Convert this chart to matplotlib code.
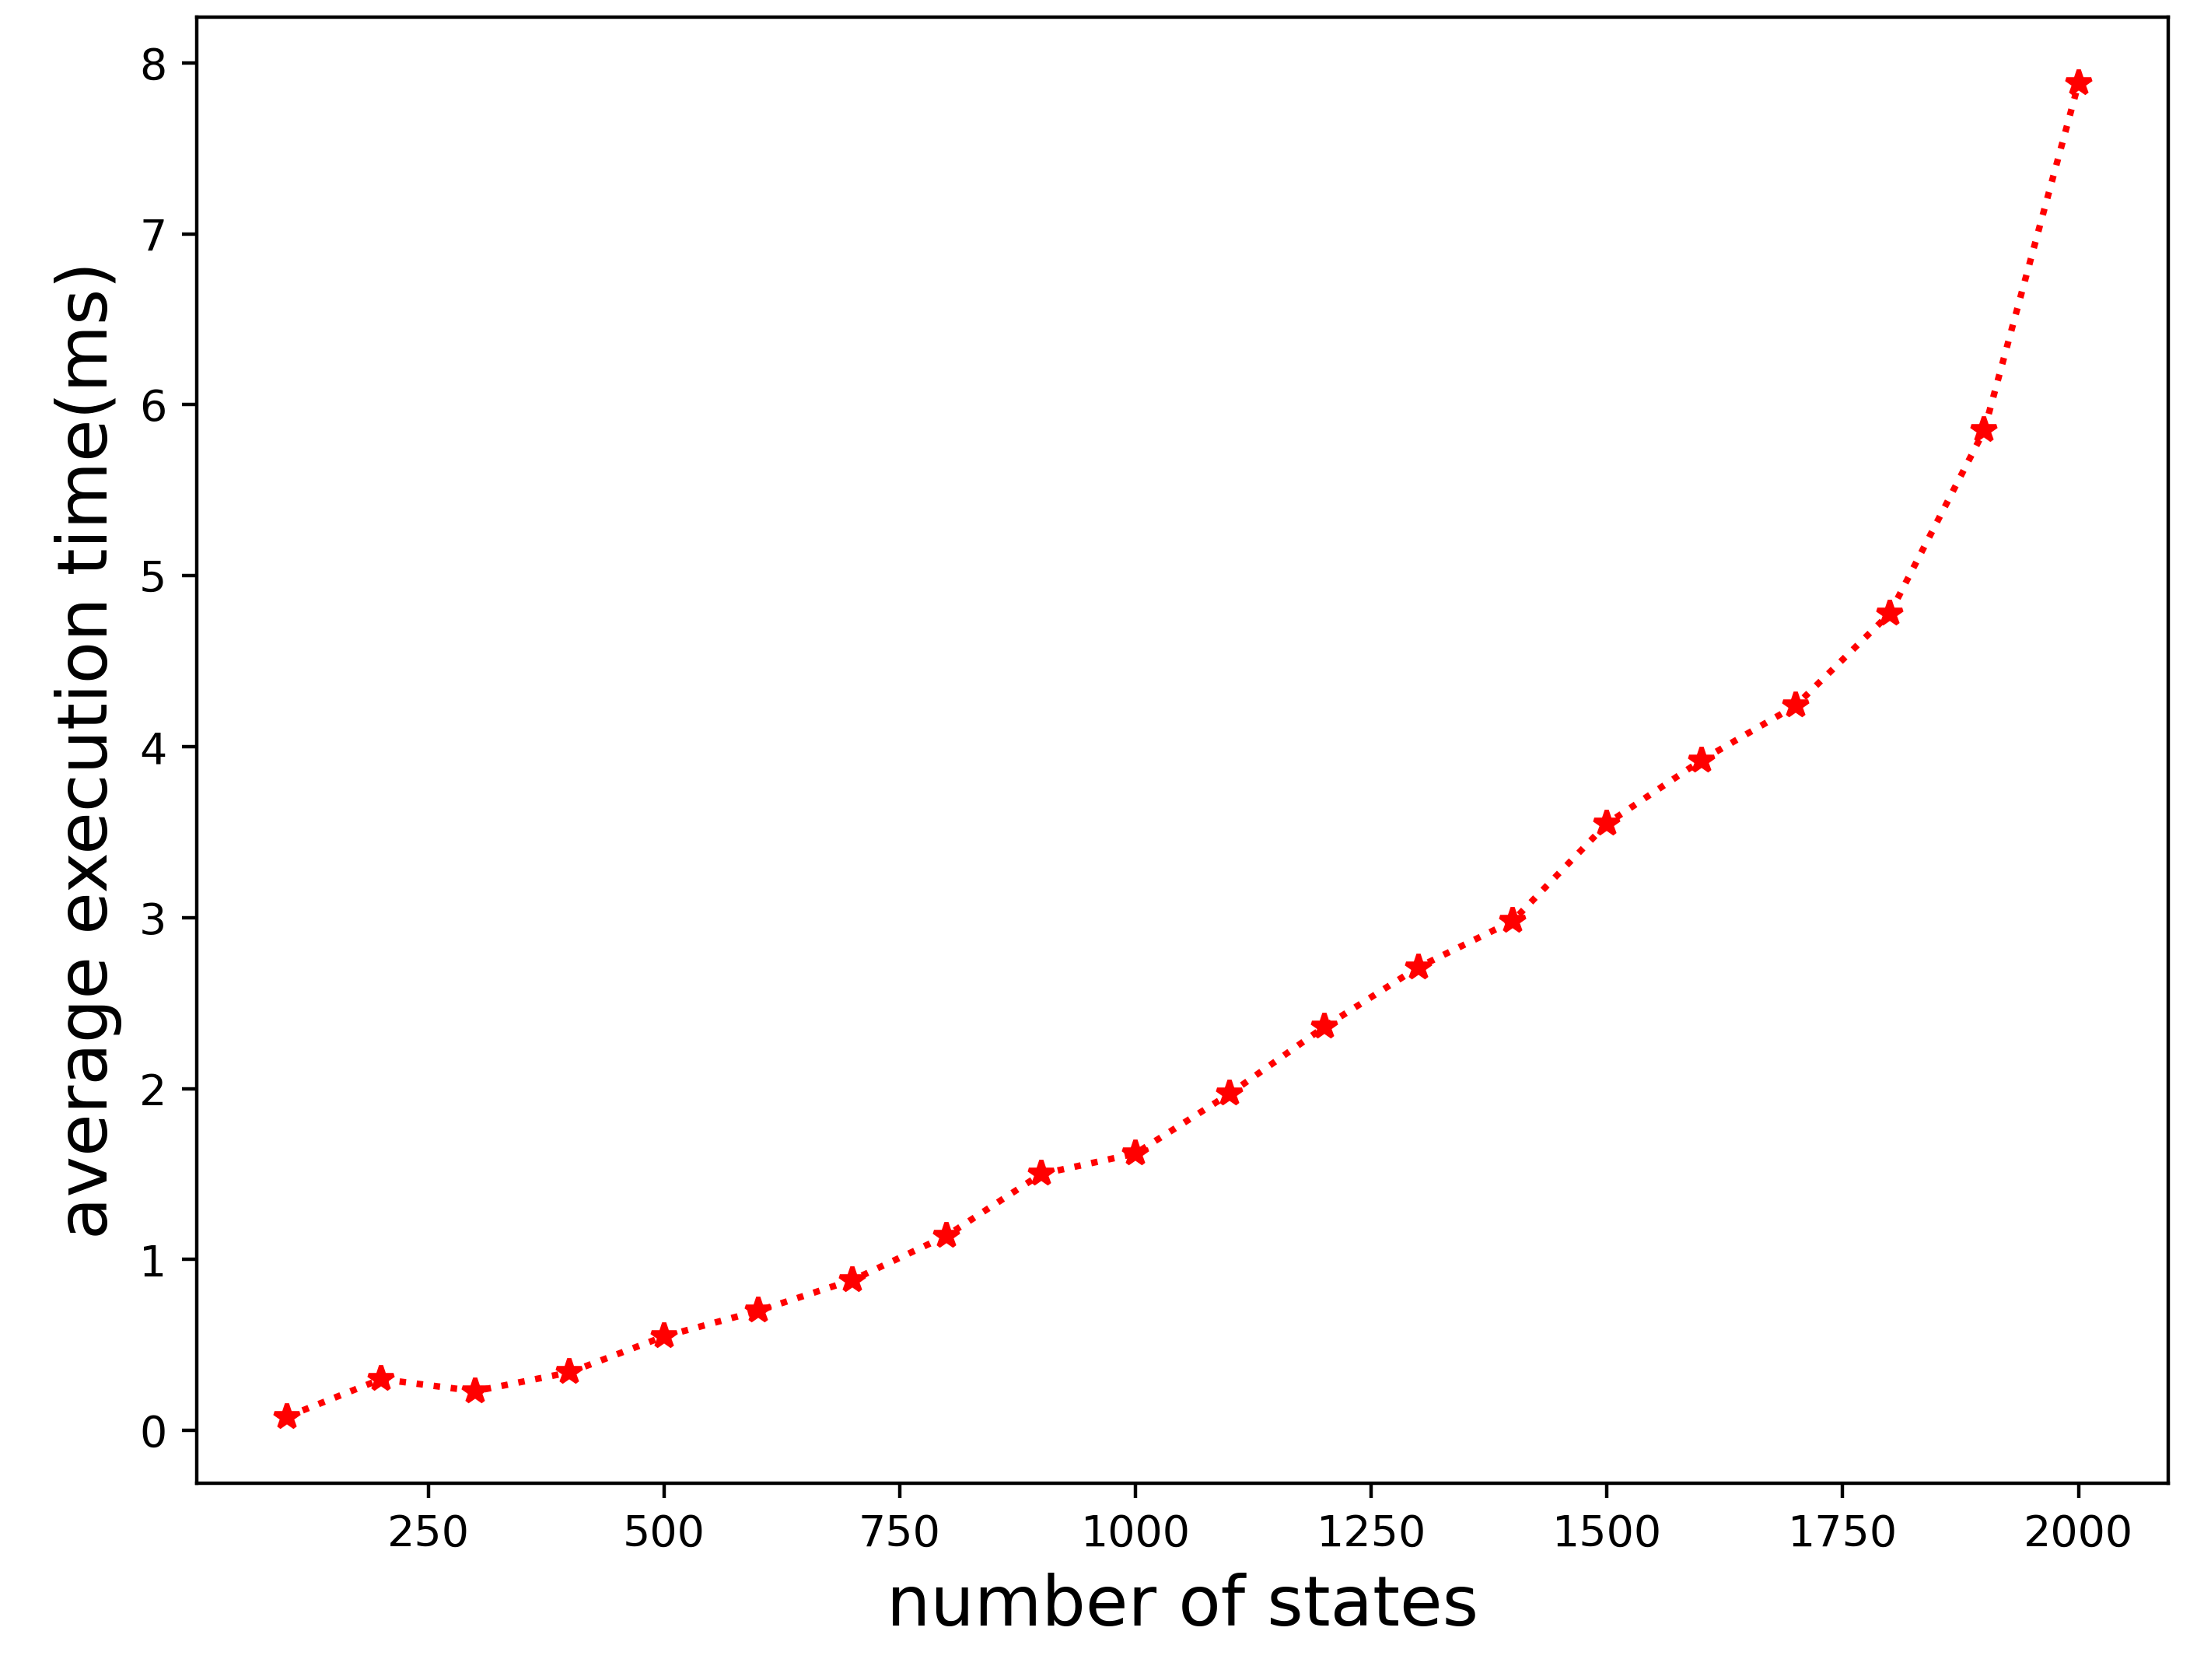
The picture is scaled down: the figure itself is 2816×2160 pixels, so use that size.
import numpy as np
from matplotlib import pyplot as plt

# data
states = [100, 200, 300, 400, 500, 600, 700, 800, 900, 1000,
          1100, 1200, 1300, 1400, 1500, 1600, 1700, 1800, 1900, 2000]
avg_time = [0.08, 0.30, 0.23, 0.34, 0.55, 0.70, 0.88, 1.14, 1.50, 1.62,
            1.97, 2.36, 2.71, 2.98, 3.55, 3.92, 4.24, 4.78, 5.85, 7.88]

fig = plt.figure(figsize=(7.04, 5.4), dpi=400)
ax = fig.add_axes([0.09, 0.117, 0.9, 0.873])
ax.plot(states, avg_time, 'r*:', linewidth=1.5, markersize=6)
ax.set_xlabel('number of states', fontsize=16)
ax.set_ylabel('average execution time(ms)', fontsize=16)
ax.tick_params(labelsize=10)
fig.savefig('out.png')
